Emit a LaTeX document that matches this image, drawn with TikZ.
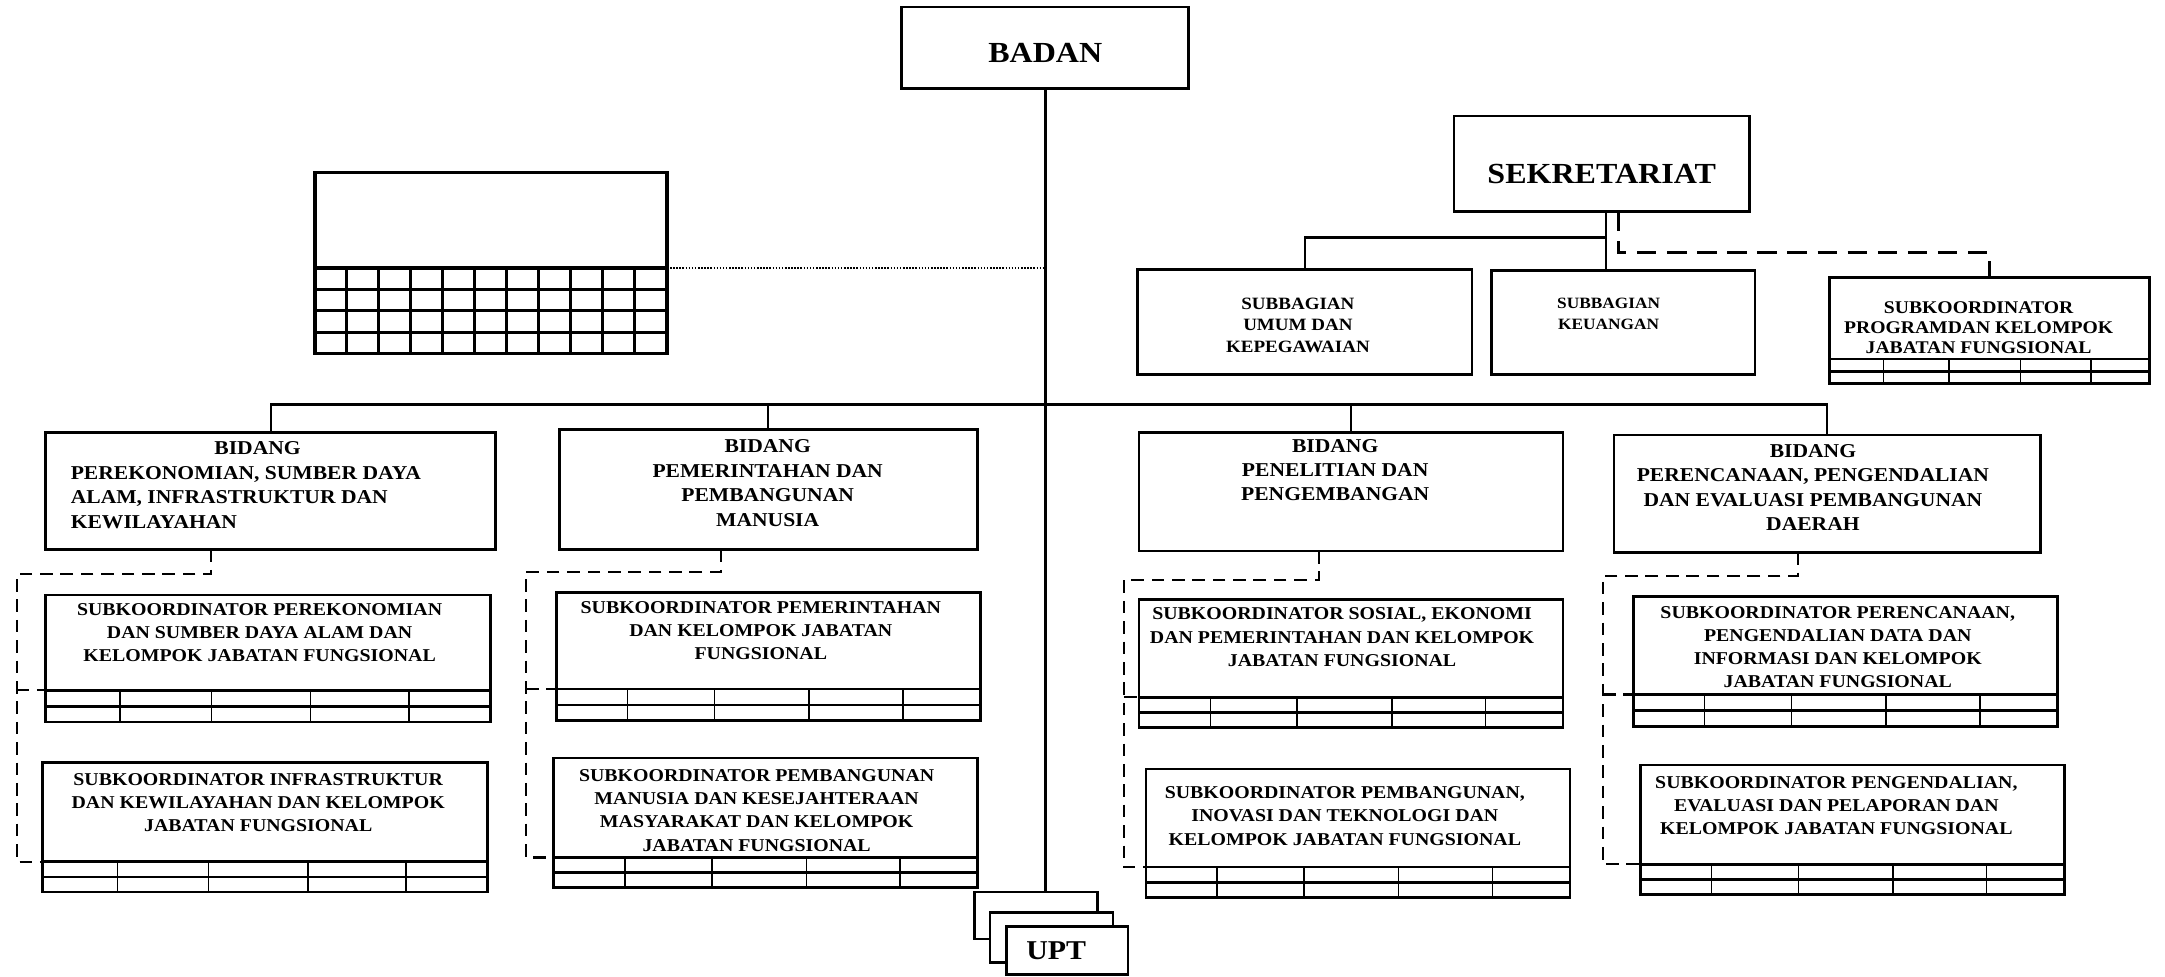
\documentclass[tikz,border=0pt]{standalone}
\usepackage{fontspec}
\usepackage{tikz}
\usetikzlibrary{calc,positioning}
\newfontfamily\orgfont{Liberation Serif}[FakeStretch=1.1]

\tikzset{
    box/.style={draw, line width=1.4pt, fill=white, inner sep=0pt, outer sep=0pt},
    heavybox/.style={draw, line width=1.9pt, inner sep=0pt, outer sep=0pt},
    topbox/.style={box, font=\orgfont\bfseries\fontsize{15}{18}\selectfont},
    uptbox/.style={box, font=\orgfont\bfseries\fontsize{14}{17}\selectfont},
    link/.style={line width=1.1pt},
    trunk/.style={line width=1.5pt},
    dashlink/.style={line width=1.1pt, dash pattern=on 6.5pt off 4pt},
    sekdash/.style={line width=1.6pt, dash pattern=on 10pt off 5.5pt},
    dotlink/.style={line width=1.1pt, dash pattern=on 0.8pt off 0.8pt},
    rowline/.style={line width=1.3pt},
    colline/.style={line width=0.8pt},
    bidtext/.style={font=\orgfont\bfseries\fontsize{10.1}{12.6}\selectfont, align=center, inner sep=0pt},
    subtext/.style={font=\orgfont\bfseries\fontsize{9.3}{11.9}\selectfont, align=center, inner sep=0pt},
    bagtext/.style={font=\orgfont\bfseries\fontsize{8.9}{11}\selectfont, align=center, inner sep=0pt}
}

% box from (x1,y1) to (x2,y2), in pixels of the layout
\newcommand{\orgbox}[7][box]{
    \node[#1, minimum width={(#5-#3)*0.025cm}, minimum height={(#6-#4)*0.025cm}]
        (#2) at ({(#3+#5)/2},{(#4+#6)/2}) {#7};
}

% two-row table under a subkoordinator box
\newcommand{\subtable}[1]{
    \draw[rowline] (#1.west) -- (#1.east);
    \foreach \pos in {0.168,0.373,0.596,0.817}
    \draw[colline] ($(#1.north west)!\pos!(#1.north east)$) -- ($(#1.south west)!\pos!(#1.south east)$);
}

\begin{document}
\begin{tikzpicture}[x=0.025cm, y=-0.025cm]
    \useasboundingbox (0,0) rectangle (1568,707);

    % head and secretariat
    \orgbox[topbox, text height=0.53cm]{badan}{653}{5}{861}{64}{BADAN}
    \orgbox[topbox, text height=0.73cm]{sekretariat}{1053}{84}{1267}{153}{SEKRETARIAT}

    % empty box with grid
    \orgbox[heavybox]{blankTop}{228}{125}{483}{194}{}
    \orgbox[heavybox]{blankGrid}{228}{194}{483}{256}{}
    \foreach \x in {1,...,10}
    \draw[line width=1.5pt] ($(blankGrid.north west)!\x/11!(blankGrid.north east)$) -- ($(blankGrid.south west)!\x/11!(blankGrid.south east)$);
    \foreach \y in {1,2,3}
    \draw[line width=1.5pt] ($(blankGrid.north west)!\y/4!(blankGrid.south west)$) -- ($(blankGrid.north east)!\y/4!(blankGrid.south east)$);

    % subbagian and program
    \orgbox{umum}{824}{195}{1066}{271}{}
    \node[bagtext] (umumText) at (940,235.5) {SUBBAGIAN\\UMUM DAN\\KEPEGAWAIAN};
    \orgbox{keuangan}{1080}{196}{1271}{271}{}
    \node[bagtext, font=\orgfont\bfseries\fontsize{8.1}{10.7}\selectfont] (keuanganText) at (1165,227.5) {SUBBAGIAN\\KEUANGAN};
    \orgbox{program}{1325}{201}{1557}{260}{}
    \orgbox{programT}{1325}{260}{1557}{278}{}
    \subtable{programT}
    \node[subtext, font=\orgfont\bfseries\fontsize{9.2}{10.3}\selectfont] (programText) at (1433,237.5) {SUBKOORDINATOR\\PROGRAMDAN KELOMPOK\\JABATAN FUNGSIONAL};

    % bidang
    \orgbox{bidEkon}{33}{313}{359}{398}{}
    \node[bidtext, align=left, anchor=west] (bidEkonText) at (51,351.5) {\hspace*{2.6cm}BIDANG\\PEREKONOMIAN, SUMBER DAYA\\ALAM, INFRASTRUKTUR DAN\\KEWILAYAHAN};
    \orgbox{bidPem}{405}{311}{708}{398}{}
    \node[bidtext] (bidPemText) at (556,350) {BIDANG\\PEMERINTAHAN DAN\\PEMBANGUNAN\\MANUSIA};
    \orgbox{bidLit}{825}{313}{1132}{399}{}
    \node[bidtext] (bidLitText) at (967,340.5) {BIDANG\\PENELITIAN DAN\\PENGEMBANGAN};
    \orgbox{bidRen}{1169}{315}{1478}{400}{}
    \node[bidtext] (bidRenText) at (1313,353) {BIDANG\\PERENCANAAN, PENGENDALIAN\\DAN EVALUASI PEMBANGUNAN\\DAERAH};

    % subkoordinator
    \orgbox{subEkon}{33}{431}{355}{500}{}
    \orgbox{subEkonT}{33}{500}{355}{523}{}
    \subtable{subEkonT}
    \node[subtext] (subEkonText) at (188,458) {SUBKOORDINATOR PEREKONOMIAN\\DAN SUMBER DAYA ALAM DAN\\KELOMPOK  JABATAN FUNGSIONAL};

    \orgbox{subInfra}{31}{552}{353}{624}{}
    \orgbox{subInfraT}{31}{624}{353}{646}{}
    \subtable{subInfraT}
    \node[subtext] (subInfraText) at (187,581.5) {SUBKOORDINATOR INFRASTRUKTUR\\DAN KEWILAYAHAN  DAN KELOMPOK\\JABATAN FUNGSIONAL};

    \orgbox{subPem}{403}{429}{710}{499}{}
    \orgbox{subPemT}{403}{499}{710}{522}{}
    \subtable{subPemT}
    \node[subtext] (subPemText) at (551,456.5) {SUBKOORDINATOR PEMERINTAHAN\\DAN KELOMPOK JABATAN\\FUNGSIONAL};

    \orgbox{subManusia}{401}{549}{708}{621}{}
    \orgbox{subManusiaT}{401}{621}{708}{643}{}
    \subtable{subManusiaT}
    \node[subtext] (subManusiaText) at (548,587) {SUBKOORDINATOR PEMBANGUNAN\\MANUSIA DAN KESEJAHTERAAN\\MASYARAKAT DAN KELOMPOK\\JABATAN FUNGSIONAL};

    \orgbox{subSosial}{825}{434}{1132}{505}{}
    \orgbox{subSosialT}{825}{505}{1132}{527}{}
    \subtable{subSosialT}
    \node[subtext] (subSosialText) at (972,461.5) {SUBKOORDINATOR SOSIAL, EKONOMI\\DAN PEMERINTAHAN  DAN KELOMPOK\\JABATAN  FUNGSIONAL};

    \orgbox{subInovasi}{830}{557}{1137}{628}{}
    \orgbox{subInovasiT}{830}{628}{1137}{650}{}
    \subtable{subInovasiT}
    \node[subtext] (subInovasiText) at (974,591) {SUBKOORDINATOR PEMBANGUNAN,\\INOVASI DAN TEKNOLOGI DAN\\KELOMPOK  JABATAN FUNGSIONAL};

    \orgbox{subRencana}{1183}{432}{1490}{503}{}
    \orgbox{subRencanaT}{1183}{503}{1490}{526}{}
    \subtable{subRencanaT}
    \node[subtext] (subRencanaText) at (1331,468.5) {SUBKOORDINATOR PERENCANAAN,\\PENGENDALIAN DATA DAN\\INFORMASI DAN KELOMPOK\\JABATAN FUNGSIONAL};

    \orgbox{subKendali}{1188}{554}{1495}{626}{}
    \orgbox{subKendaliT}{1188}{626}{1495}{648}{}
    \subtable{subKendaliT}
    \node[subtext] (subKendaliText) at (1330,583.5) {SUBKOORDINATOR PENGENDALIAN,\\EVALUASI DAN PELAPORAN DAN\\KELOMPOK  JABATAN FUNGSIONAL};

    % UPT stack
    \orgbox[uptbox]{uptC}{706}{646}{795}{680}{}
    \orgbox[uptbox]{uptB}{717}{661}{806}{697}{}
    \orgbox[uptbox]{upt}{729}{671}{817}{706}{UPT\hspace*{0.4cm}}

    % main lines
    \coordinate (bus) at (758,293);
    \draw[trunk] (badan.south) -- (badan.south |- uptC.north);
    \draw[link] (bidEkon.north) |- (bus) -| (bidRen.north);
    \draw[link] (bidPem.north) -- (bidPem.north |- bus);
    \draw[link] (bidLit.north) -- (bidLit.north |- bus);
    \draw[dotlink] (blankGrid.north east) -- (badan.south |- blankGrid.north east);

    % secretariat lines
    \coordinate (sekbus) at (1163,172);
    \coordinate (progbend) at (1172,183);
    \draw[link] (sekretariat.south -| sekbus) -- (keuangan.north -| sekbus);
    \draw[link] (umum.north) |- (sekbus);
    \draw[sekdash] (sekretariat.south -| progbend) -- (progbend) -| (program.north);

    % dashed lines to subkoordinator
    \coordinate (ekonD) at (153,416);
    \coordinate (ekonL) at (12,416);
    \draw[dashlink] (bidEkon.south -| ekonD) -- (ekonD) -- (ekonL) |- (subInfraT.north west);
    \draw[dashlink] (ekonL |- subEkonT.north west) -- (subEkonT.north west);

    \coordinate (pemD) at (522,414);
    \coordinate (pemL) at (381,414);
    \draw[dashlink] (bidPem.south -| pemD) -- (pemD) -- (pemL) |- (subManusiaT.north west);
    \draw[dashlink] (pemL |- subPemT.north west) -- (subPemT.north west);

    \coordinate (litD) at (955,420);
    \coordinate (litL) at (814,420);
    \draw[dashlink] (bidLit.south -| litD) -- (litD) -- (litL) |- (subInovasiT.north west);
    \draw[dashlink] (litL |- subSosialT.north west) -- (subSosialT.north west);

    \coordinate (renD) at (1302,417);
    \coordinate (renL) at (1161,417);
    \draw[dashlink] (bidRen.south -| renD) -- (renD) -- (renL) |- (subKendaliT.north west);
    \draw[dashlink] (renL |- subRencanaT.north west) -- (subRencanaT.north west);
\end{tikzpicture}
\end{document}
